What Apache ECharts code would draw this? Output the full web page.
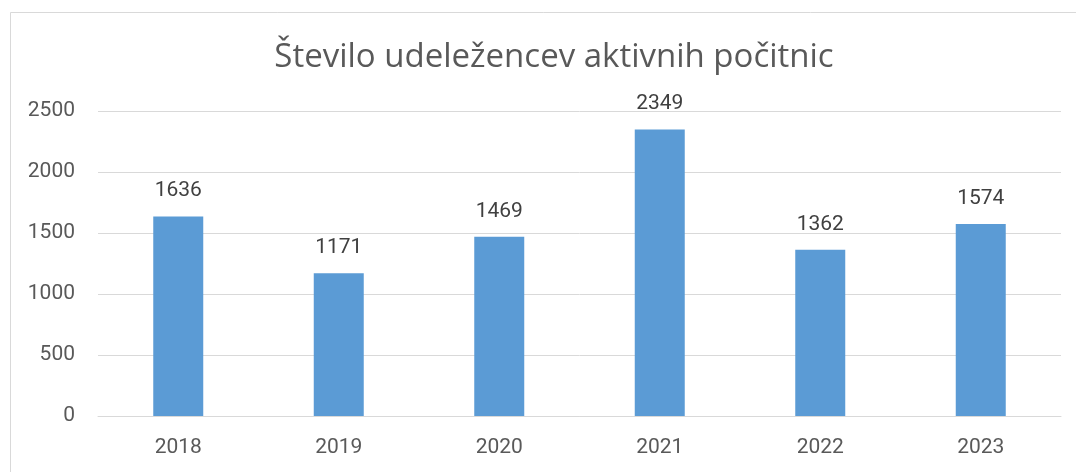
<!DOCTYPE html>
<html>
<head>
<meta charset="utf-8">
<script src="https://cdn.jsdelivr.net/npm/echarts@6/dist/echarts.min.js"></script>
<style>
  html, body { margin: 0; padding: 0; background: #fff; }
  #chart { width: 1076px; height: 472px; }
</style>
</head>
<body>
<div id="chart"></div>
<script>
// podatki
const years = ['2018', '2019', '2020', '2021', '2022', '2023'];
const participants = [1636, 1171, 1469, 2349, 1362, 1574];
const yTicks = [0, 500, 1000, 1500, 2000, 2500];

const chart = echarts.init(document.getElementById('chart'));

const option = {
    backgroundColor: '#fff',
    animation: false,
    title: {
        text: 'Število udeležencev aktivnih počitnic',
        left: 549,
        textAlign: 'center',
        top: 36,
        textStyle: {
            color: '#595959',
            fontFamily: 'Open Sans',
            fontSize: 33,
            fontWeight: 'normal'
        }
    },
    // okvir grafa
    graphic: [{
        type: 'rect',
        shape: { x: 10.5, y: 12.5, width: 1200, height: 600 },
        style: { fill: 'none', stroke: '#d9d9d9', lineWidth: 1 },
        silent: true
    }],
    grid: {
        left: 98,
        right: 15,
        top: 111,
        bottom: 56
    },
    xAxis: {
        type: 'category',
        data: years,
        axisLine: { lineStyle: { color: '#d9d9d9', width: 1 } },
        axisTick: { show: false },
        axisLabel: {
            color: '#595959',
            fontFamily: 'Roboto',
            fontSize: 21,
            margin: 21
        }
    },
    yAxis: {
        type: 'value',
        min: yTicks[0],
        max: yTicks[yTicks.length - 1],
        interval: 500,
        axisLine: { show: false },
        axisTick: { show: false },
        splitLine: { lineStyle: { color: '#d9d9d9', width: 1 } },
        axisLabel: {
            color: '#595959',
            fontFamily: 'Roboto',
            fontSize: 21,
            margin: 23,
            formatter: v => String(v)
        }
    },
    series: [{
        type: 'bar',
        data: participants,
        barWidth: 50,
        itemStyle: { color: '#5b9bd5' },
        label: {
            show: true,
            position: 'top',
            distance: 15,
            color: '#404040',
            fontFamily: 'Roboto',
            fontSize: 21
        }
    }]
};

chart.setOption(option);
</script>
</body>
</html>
